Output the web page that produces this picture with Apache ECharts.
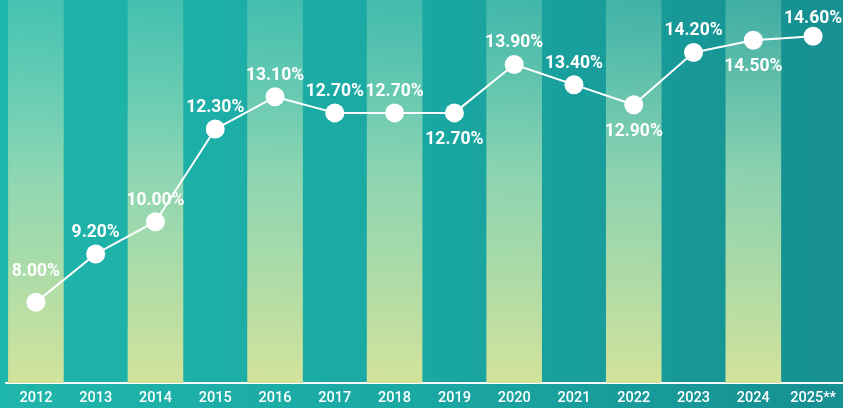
<!DOCTYPE html>
<html>
<head>
<meta charset="utf-8">
<script src="https://cdn.jsdelivr.net/npm/echarts@6/dist/echarts.min.js"></script>
<style>
  html, body { margin: 0; padding: 0; }
  #chart { width: 843px; height: 408px; }
</style>
</head>
<body>
<div id="chart"></div>
<script>
  // years on the axis
  var years = ['2012', '2013', '2014', '2015', '2016', '2017', '2018', '2019', '2020', '2021', '2022', '2023', '2024', '2025**'];
  // share in percent
  var shares = [8.0, 9.2, 10.0, 12.3, 13.1, 12.7, 12.7, 12.7, 13.9, 13.4, 12.9, 14.2, 14.5, 14.6];
  // years whose label sits under the point
  var labelBelow = ['2019', '2022', '2024'];
  // light stripes behind every other year
  var stripeYears = ['2012', '2014', '2016', '2018', '2020', '2022', '2024'];

  var yMin = 6;
  var yMax = 15.5;

  var chart = echarts.init(document.getElementById('chart'));

  var stripeData = years.map(function (y) {
    return stripeYears.indexOf(y) >= 0 ? yMax : null;
  });

  var lineData = shares.map(function (v, i) {
    var below = labelBelow.indexOf(years[i]) >= 0;
    var dist = below ? 8 : 3;
    if (i === 0) dist = 12;            // first label sits a bit higher
    if (i === years.length - 1) dist = -1; // last one is squeezed by the top edge
    return {
      value: v,
      label: { position: below ? 'bottom' : 'top', distance: dist }
    };
  });

  var option = {
    animation: false,
    graphic: [{
      type: 'rect',
      z: -10,
      silent: true,
      shape: { x: 0, y: 0, width: 843, height: 408 },
      style: {
        fill: new echarts.graphic.LinearGradient(0, 0, 1, 0, [
          { offset: 0, color: '#1fb6ab' },
          { offset: 0.5, color: '#1aa8a3' },
          { offset: 1, color: '#168f91' }
        ])
      }
    }],
    grid: { left: 6, right: -1, top: 0, bottom: 25 },
    xAxis: {
      type: 'category',
      data: years,
      boundaryGap: true,
      axisLine: { lineStyle: { color: '#ffffff', width: 2 } },
      axisTick: { inside: true, length: 8, interval: 0, lineStyle: { color: '#ffffff', width: 2 } },
      axisLabel: {
        interval: 0,
        color: '#ffffff',
        fontFamily: 'Roboto',
        fontWeight: 500,
        fontSize: 14.5,
        margin: 8
      }
    },
    yAxis: {
      type: 'value',
      min: yMin,
      max: yMax,
      show: false,
      splitLine: { show: false }
    },
    series: [
      {
        type: 'bar',
        data: stripeData,
        barWidth: '93%',
        silent: true,
        z: 1,
        itemStyle: {
          color: new echarts.graphic.LinearGradient(0, 0, 0, 1, [
            { offset: 0, color: 'rgba(140,220,190,0.35)' },
            { offset: 0.45, color: 'rgba(160,220,180,0.85)' },
            { offset: 1, color: '#d3e39b' }
          ])
        }
      },
      {
        type: 'line',
        data: lineData,
        z: 3,
        symbol: 'circle',
        symbolSize: 19,
        itemStyle: { color: '#ffffff' },
        lineStyle: { color: '#ffffff', width: 2 },
        label: {
          show: true,
          color: '#ffffff',
          fontFamily: 'Roboto',
          fontWeight: 'bold',
          fontSize: 17.5,
          formatter: function (p) { return p.value.toFixed(2) + '%'; }
        }
      }
    ]
  };

  chart.setOption(option);
</script>
</body>
</html>
